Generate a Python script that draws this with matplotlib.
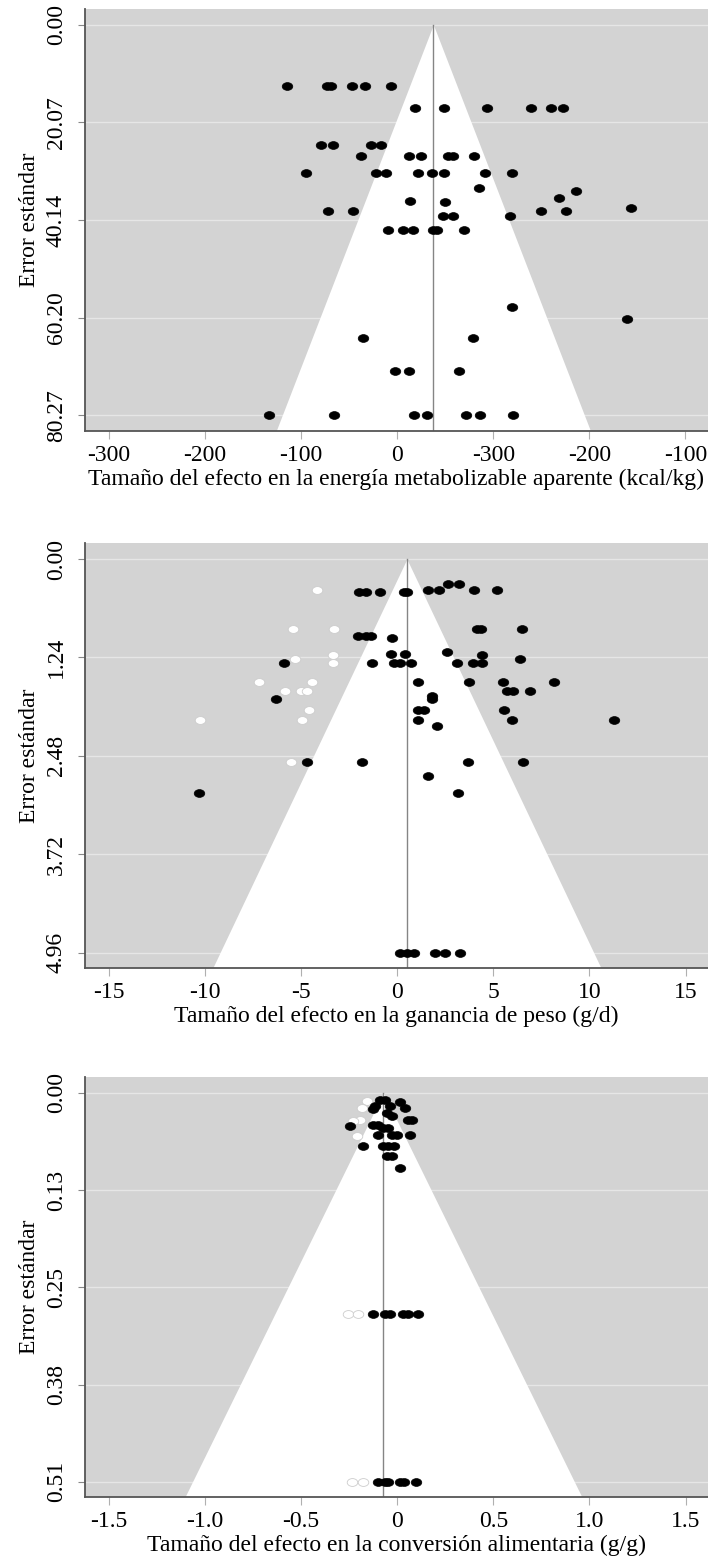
import numpy as np
import matplotlib
matplotlib.use('Agg')
import matplotlib.pyplot as plt
from matplotlib.path import Path
from matplotlib.transforms import Affine2D

plt.rcParams['font.family'] = ['Liberation Serif', 'DejaVu Serif']
plt.rcParams['font.size'] = 17

# --- Panel 1: energia metabolizable aparente (kcal/kg) ---
ema_eff = [-114.4, -72.7, -69.2, -47.4, -33.5, -6.8,
           18.2, 48.4, 93.8, 139.2, 160.4, 172.2,
           -79.6, -67.1, -27.6, -16.5,
           -37.7, 12.6, 24.5, 53.2, 57.8, 79.6,
           -95.2, -21.7, -11.7, 22.0, 35.9, 48.4, 91.4, 119.8,
           85.5, 186.0, 168.0, 13.3, 49.7, 243.0,
           -72.3, -46.0, 149.6, 175.6,
           48.0, 57.8, 117.4,
           -10.0, 6.4, 16.1, 37.6, 41.1, 69.5,
           119.1, 239.5, -35.5, 79.2,
           -2.1, 12.1, 64.6,
           -133.0, -65.9, 17.1, 31.2, 71.3, 86.3, 120.4]
ema_se = [12.66] * 6 + [17.04] * 6 + [24.77] * 4 + [27.03] * 6 + [30.5] * 8 + \
         [33.6, 34.2, 35.6, 36.2, 36.5, 37.6] + [38.2] * 4 + [39.3] * 3 + [42.2] * 6 + \
         [58.1, 60.4, 64.3, 64.3] + [71.1] * 3 + [80.27] * 7
ema_center = 37.6
ema_se_max = 80.27
ema_xlim = (-325, 323.5)
ema_xticks = [-300, -200, -100, 0, 100, 200, 300]
ema_xticklabels = ['-300', '-200', '-100', '0', '-300', '-200', '-100']
ema_yticklabels = ['0.00', '20.07', '40.14', '60.20', '80.27']

# --- Panel 2: ganancia de peso (g/d) ---
gp_eff = [-1.97, -1.62, -0.92, 0.35, 0.53, 1.60, 2.19, 2.63, 3.23, 4.0, 5.18,
          -2.04, -1.62, -1.35, -0.27, 4.14, 4.34, 6.48,
          -0.32, 0.41, 2.61, 4.43, 6.37,
          -5.92, -1.31, -0.17, 0.12, 0.70, 3.10, 3.96, 4.40,
          1.10, 3.75, 5.49, 8.17,
          5.70, 6.04, 6.89,
          -6.32, 1.79, 1.79,
          1.10, 1.41, 5.57,
          1.10, 5.99, 11.30,
          2.09,
          -4.71, -1.85, 3.70, 6.56,
          1.59,
          -10.34, 3.16,
          0.15, 0.52, 0.89, 1.96, 2.48, 3.29]
gp_se = [0.421, 0.421, 0.421, 0.421, 0.421, 0.391, 0.391, 0.312, 0.312, 0.391, 0.391,
         0.968, 0.968, 0.968, 1.0, 0.876, 0.876, 0.876,
         1.196, 1.196, 1.17, 1.21, 1.255,
         1.31, 1.31, 1.31, 1.31, 1.31, 1.31, 1.31, 1.31,
         1.553, 1.553, 1.553, 1.553,
         1.667, 1.667, 1.667,
         1.764, 1.72, 1.76,
         1.907, 1.907, 1.907,
         2.03, 2.03, 2.03,
         2.11,
         2.555, 2.555, 2.555, 2.555,
         2.74,
         2.95, 2.95,
         4.96, 4.96, 4.96, 4.96, 4.96, 4.96]
gp_eff_open = [-4.16, -5.44, -3.29, -5.33, -3.36, -3.36, -7.17, -4.45,
               -5.85, -5.02, -4.71, -4.57, -10.26, -4.97, -5.54]
gp_se_open = [0.391, 0.876, 0.876, 1.255, 1.21, 1.31, 1.553, 1.553,
              1.667, 1.667, 1.667, 1.907, 2.03, 2.03, 2.555]
gp_center = 0.5
gp_se_max = 4.96
gp_xlim = (-16.25, 16.17)
gp_xticks = [-15, -10, -5, 0, 5, 10, 15]
gp_xticklabels = ['-15', '-10', '-5', '0', '5', '10', '15']
gp_yticklabels = ['0.00', '1.24', '2.48', '3.72', '4.96']

# --- Panel 3: conversion alimentaria (g/g) ---
ca_eff = [-0.089, -0.063, 0.015, -0.116, -0.037, 0.041, -0.124, -0.055, -0.029,
          0.058, 0.075, -0.246, -0.124, -0.098, -0.072, -0.046, -0.098, -0.029,
          -0.003, 0.067, -0.176, -0.072, -0.046, -0.017, -0.055, -0.029, 0.015,
          -0.124, -0.063, -0.037, 0.032, 0.058, 0.110,
          -0.098, -0.063, -0.046, 0.015, 0.035, 0.098]
ca_se = [0.0087, 0.0087, 0.0117, 0.017, 0.017, 0.0196, 0.021, 0.026, 0.030,
         0.0348, 0.0348, 0.0435, 0.0413, 0.0413, 0.0456, 0.0456, 0.0552, 0.0552,
         0.0552, 0.0552, 0.0695, 0.0695, 0.0695, 0.0695, 0.0825, 0.0825, 0.0986,
         0.2887, 0.2887, 0.2887, 0.2887, 0.2887, 0.2887,
         0.507, 0.507, 0.507, 0.507, 0.507, 0.507]
ca_eff_open = [-0.159, -0.185, -0.194, -0.228, -0.211, -0.254, -0.202, -0.237, -0.176]
ca_se_open = [0.011, 0.0196, 0.0348, 0.037, 0.0565, 0.2887, 0.2887, 0.507, 0.507]
ca_center = -0.072
ca_se_max = 0.507
ca_xlim = (-1.625, 1.617)
ca_xticks = [-1.5, -1.0, -0.5, 0, 0.5, 1.0, 1.5]
ca_xticklabels = ['-1.5', '-1.0', '-0.5', '0', '0.5', '1.0', '1.5']
ca_yticklabels = ['0.00', '0.13', '0.25', '0.38', '0.51']

# oval dot like the original
dot = Path.unit_circle().transformed(Affine2D().scale(1.0, 0.74))


def funnel_panel(ax, eff, se, eff_open, se_open, center, se_max, xlim,
                 xticks, xticklabels, yticklabels, xlabel):
    ax.set_facecolor('#d3d3d3')
    ytop, ybot = -0.04 * se_max, 1.04 * se_max
    yticks = np.linspace(0, se_max, 5)
    for yt in yticks:
        ax.axhline(yt, color='#e6e6e6', lw=1, zorder=0.5)
    yy = np.linspace(0, ybot, 50)
    ax.fill_betweenx(yy, center - 1.96 * yy, center + 1.96 * yy,
                     color='white', lw=0, zorder=1)
    ax.plot([center, center], [0, ybot], color='#858585', lw=1, zorder=2)
    if eff_open:
        ax.plot(eff_open, se_open, ls='none', marker=dot, ms=7.6, mfc='white',
                mec='#cccccc', mew=0.6, zorder=3)
    ax.plot(eff, se, ls='none', marker=dot, ms=7.6, mfc='black',
            mec='black', mew=0.5, zorder=4)
    ax.set_xlim(*xlim)
    ax.set_ylim(ybot, ytop)
    ax.set_xticks(xticks)
    ax.set_xticklabels(xticklabels)
    ax.set_yticks(yticks)
    ax.set_yticklabels(yticklabels, rotation=90, va='center')
    ax.tick_params(axis='x', length=6, color='#b0b0b0', pad=4)
    ax.tick_params(axis='y', length=5, color='#888888', pad=8)
    for s in ['top', 'right']:
        ax.spines[s].set_visible(False)
    for s in ['left', 'bottom']:
        ax.spines[s].set_color('#555555')
        ax.spines[s].set_linewidth(1.3)
    ax.set_xlabel(xlabel, labelpad=2)
    ax.set_ylabel('Error estándar', labelpad=4)


fig = plt.figure(figsize=(7.08, 15.62), dpi=100)
W, H = 708, 1562
left = 85 / W
width = 623 / W

ax1 = fig.add_axes([left, (H - 431) / H, width, 422 / H])
funnel_panel(ax1, ema_eff, ema_se, [], [], ema_center, ema_se_max, ema_xlim,
             ema_xticks, ema_xticklabels, ema_yticklabels,
             'Tamaño del efecto en la energía metabolizable aparente (kcal/kg)')

ax2 = fig.add_axes([left, (H - 968.3) / H, width, 425 / H])
funnel_panel(ax2, gp_eff, gp_se, gp_eff_open, gp_se_open, gp_center, gp_se_max, gp_xlim,
             gp_xticks, gp_xticklabels, gp_yticklabels,
             'Tamaño del efecto en la ganancia de peso (g/d)')

ax3 = fig.add_axes([left, (H - 1497.3) / H, width, 420 / H])
funnel_panel(ax3, ca_eff, ca_se, ca_eff_open, ca_se_open, ca_center, ca_se_max, ca_xlim,
             ca_xticks, ca_xticklabels, ca_yticklabels,
             'Tamaño del efecto en la conversión alimentaria (g/g)')

fig.savefig('out.png', dpi=100)
